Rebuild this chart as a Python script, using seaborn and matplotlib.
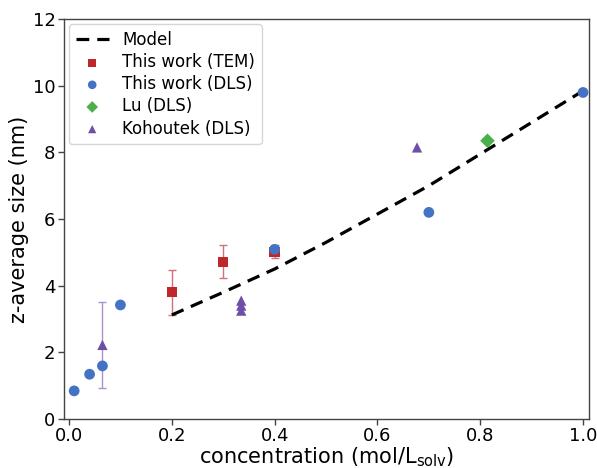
import numpy as np
import pandas as pd
import matplotlib
matplotlib.use('Agg')
import matplotlib.pyplot as plt
import seaborn as sns

# model curve
model_x = [0.2, 0.3, 0.4, 0.5, 0.6, 0.7, 0.8, 0.9, 1.0]
model_y = [3.12, 3.8, 4.5, 5.3, 6.15, 7.0, 7.95, 8.9, 9.85]

# this work, TEM (with error bars)
tem_x = [0.2, 0.3, 0.4]
tem_y = [3.8, 4.72, 5.02]
tem_err = [0.67, 0.5, 0.2]

# this work, DLS
dls_x = [0.01, 0.04, 0.065, 0.1, 0.4, 0.7, 1.0]
dls_y = [0.84, 1.34, 1.59, 3.42, 5.09, 6.2, 9.8]

# Lu (DLS)
lu_x = [0.814]
lu_y = [8.35]

# Kohoutek (DLS)
koh_x = [0.065, 0.335, 0.335, 0.335, 0.677]
koh_y = [2.22, 3.55, 3.4, 3.25, 8.15]
koh_err = [1.3, 0, 0, 0, 0]

c_red = '#c0272d'
c_blue = '#4472c4'
c_green = '#4cb04a'
c_purple = '#6f4ea8'

sns.set_style('ticks')
plt.rcParams['font.family'] = ['DejaVu Sans']
plt.rcParams['text.color'] = 'black'
plt.rcParams['axes.labelcolor'] = 'black'
plt.rcParams['xtick.labelcolor'] = 'black'
plt.rcParams['ytick.labelcolor'] = 'black'

fig = plt.figure(figsize=(5.97, 4.68), dpi=100)
ax = fig.add_axes([0.107, 0.105, 0.88, 0.854])

# error bars first so markers sit on top
ax.errorbar(tem_x, tem_y, yerr=tem_err, fmt='none', ecolor='#d0707a',
            elinewidth=1.0, capsize=3, capthick=1.0, zorder=2)
ax.errorbar(koh_x[:1], koh_y[:1], yerr=koh_err[:1], fmt='none',
            ecolor='#a992cf', elinewidth=1.0, capsize=3, capthick=1.0,
            zorder=2)

sns.lineplot(x=model_x, y=model_y, ax=ax, color='black', lw=2.3,
             linestyle=(0, (4, 2.5)), label='Model', zorder=3)
sns.scatterplot(x=tem_x, y=tem_y, ax=ax, marker='s', s=55, color=c_red,
                edgecolor='none', label='This work (TEM)', zorder=4)
sns.scatterplot(x=dls_x, y=dls_y, ax=ax, marker='o', s=60, color=c_blue,
                edgecolor='none', label='This work (DLS)', zorder=5)
sns.scatterplot(x=lu_x, y=lu_y, ax=ax, marker='D', s=55, color=c_green,
                edgecolor='none', label='Lu (DLS)', zorder=5)
sns.scatterplot(x=koh_x, y=koh_y, ax=ax, marker='^', s=55, color=c_purple,
                edgecolor='none', label='Kohoutek (DLS)', zorder=5)

ax.set_xlim(-0.01, 1.012)
ax.set_ylim(0, 12)
ax.set_xticks([0.0, 0.2, 0.4, 0.6, 0.8, 1.0])
ax.set_yticks([0, 2, 4, 6, 8, 10, 12])
ax.tick_params(labelsize=13, length=4, width=1, color='#444444', pad=2)
for sp in ax.spines.values():
    sp.set_color('#444444')
    sp.set_linewidth(1.0)

ax.set_xlabel(r'concentration (mol/L$_{\mathrm{solv}}$)', fontsize=15,
              labelpad=0)
ax.set_ylabel('z-average size (nm)', fontsize=15, labelpad=3)

leg = ax.legend(loc='upper left', fontsize=12, frameon=True,
                handlelength=2.0, borderpad=0.4, labelspacing=0.25,
                handletextpad=0.8, borderaxespad=0.3, markerscale=0.8)
leg.get_frame().set_edgecolor('#cccccc')

fig.savefig('out.png', dpi=100)
